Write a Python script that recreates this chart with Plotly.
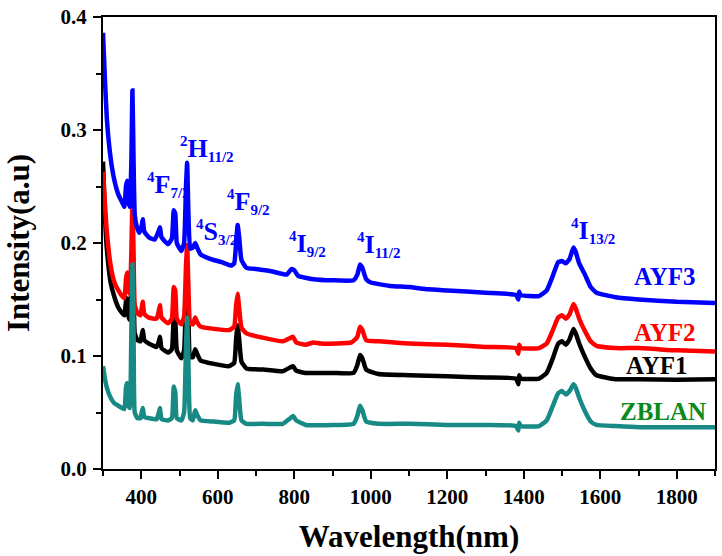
import plotly.graph_objects as go

# ---------------- data ----------------
wl_ayf3 = [300, 305, 310, 320, 330, 340, 350, 356, 360, 363, 366, 370, 374, 377, 380, 383, 388, 395, 401, 404, 408,
           420, 435, 445, 449, 453, 470, 480, 485, 489, 493, 505, 512, 517, 520, 523, 528, 535, 541, 546, 555,
           580, 610, 635, 643, 648, 652, 656, 662, 675, 700, 740, 780, 793, 800, 810, 850, 900, 955, 965, 972,
           978, 988, 1000, 1050, 1100, 1150, 1200, 1300, 1380, 1386, 1388, 1392, 1440, 1460, 1475, 1490, 1500,
           1510, 1520, 1530, 1536, 1545, 1560, 1575, 1590, 1640, 1700, 1800, 1900]
int_ayf3 = [0.386, 0.345, 0.310, 0.275, 0.255, 0.243, 0.236, 0.232, 0.250, 0.255, 0.238, 0.232, 0.270, 0.335, 0.270,
            0.225, 0.215, 0.209, 0.215, 0.221, 0.210, 0.205, 0.203, 0.210, 0.214, 0.205, 0.199, 0.204, 0.229, 0.226,
            0.200, 0.193, 0.200, 0.250, 0.271, 0.230, 0.195, 0.196, 0.200, 0.196, 0.190, 0.186, 0.183, 0.180, 0.182,
            0.200, 0.216, 0.205, 0.185, 0.178, 0.177, 0.175, 0.172, 0.177, 0.176, 0.171, 0.168, 0.167, 0.167, 0.172,
            0.181, 0.178, 0.168, 0.165, 0.162, 0.161, 0.159, 0.158, 0.156, 0.154, 0.150, 0.157, 0.154, 0.153, 0.158,
            0.170, 0.183, 0.184, 0.182, 0.186, 0.196, 0.192, 0.182, 0.172, 0.161, 0.156, 0.152, 0.150, 0.148, 0.147]

wl_ayf2 = [300, 305, 310, 320, 330, 340, 350, 356, 360, 363, 366, 370, 374, 377, 380, 383, 390, 398, 401, 404, 408,
           420, 440, 446, 449, 453, 470, 480, 485, 489, 493, 505, 512, 517, 520, 523, 528, 535, 541, 546, 555,
           590, 630, 643, 648, 652, 656, 662, 675, 720, 770, 790, 797, 805, 830, 850, 870, 950, 965, 972, 978,
           988, 1020, 1100, 1200, 1300, 1380, 1386, 1388, 1392, 1440, 1460, 1475, 1490, 1500, 1510, 1520, 1530,
           1536, 1545, 1560, 1575, 1590, 1640, 1700, 1800, 1900]
int_ayf2 = [0.263, 0.235, 0.210, 0.180, 0.165, 0.158, 0.153, 0.151, 0.168, 0.174, 0.158, 0.155, 0.190, 0.238, 0.190,
            0.145, 0.138, 0.136, 0.142, 0.148, 0.137, 0.134, 0.133, 0.140, 0.145, 0.134, 0.129, 0.133, 0.161, 0.158,
            0.133, 0.128, 0.135, 0.180, 0.198, 0.165, 0.129, 0.128, 0.134, 0.130, 0.126, 0.124, 0.123, 0.126, 0.145,
            0.155, 0.142, 0.125, 0.120, 0.116, 0.113, 0.116, 0.117, 0.112, 0.110, 0.112, 0.111, 0.112, 0.117, 0.126,
            0.123, 0.114, 0.113, 0.111, 0.110, 0.108, 0.107, 0.102, 0.110, 0.107, 0.107, 0.111, 0.122, 0.134, 0.136,
            0.133, 0.137, 0.146, 0.142, 0.133, 0.122, 0.113, 0.109, 0.107, 0.107, 0.105, 0.104]

wl_ayf1 = [300, 305, 310, 320, 330, 340, 350, 356, 360, 363, 366, 370, 374, 377, 380, 383, 390, 398, 401, 404, 408,
           420, 440, 446, 449, 453, 470, 480, 485, 489, 493, 505, 512, 517, 520, 523, 528, 535, 541, 546, 555,
           590, 630, 643, 648, 652, 656, 662, 675, 720, 770, 790, 797, 805, 830, 900, 955, 965, 972, 978, 988,
           1020, 1100, 1200, 1300, 1380, 1386, 1388, 1392, 1440, 1460, 1475, 1490, 1500, 1510, 1520, 1530, 1536,
           1545, 1560, 1575, 1590, 1640, 1700, 1800, 1900]
int_ayf1 = [0.272, 0.225, 0.195, 0.165, 0.152, 0.143, 0.138, 0.136, 0.148, 0.151, 0.136, 0.132, 0.160, 0.200, 0.160,
            0.120, 0.114, 0.113, 0.118, 0.123, 0.114, 0.111, 0.108, 0.113, 0.117, 0.107, 0.103, 0.106, 0.133, 0.130,
            0.105, 0.098, 0.105, 0.150, 0.170, 0.140, 0.099, 0.099, 0.106, 0.102, 0.096, 0.093, 0.091, 0.094, 0.115,
            0.127, 0.115, 0.095, 0.089, 0.088, 0.0865, 0.090, 0.091, 0.087, 0.085, 0.085, 0.085, 0.092, 0.101, 0.098,
            0.088, 0.084, 0.083, 0.082, 0.081, 0.080, 0.075, 0.083, 0.080, 0.080, 0.085, 0.097, 0.111, 0.113, 0.110,
            0.115, 0.124, 0.120, 0.111, 0.099, 0.089, 0.083, 0.0795, 0.0795, 0.079, 0.0795]

wl_zblan = [300, 305, 310, 320, 330, 340, 350, 356, 360, 363, 366, 370, 374, 377, 380, 383, 390, 398, 401, 404, 408,
            420, 440, 446, 449, 453, 470, 480, 485, 489, 493, 505, 512, 517, 520, 523, 528, 535, 541, 546, 555,
            590, 630, 643, 648, 652, 656, 662, 675, 720, 770, 790, 797, 805, 830, 900, 955, 965, 972, 978, 988,
            1020, 1100, 1200, 1300, 1380, 1386, 1388, 1392, 1440, 1460, 1475, 1490, 1500, 1510, 1520, 1530, 1536,
            1545, 1560, 1575, 1590, 1640, 1700, 1800, 1900]
int_zblan = [0.091, 0.080, 0.072, 0.063, 0.058, 0.056, 0.054, 0.053, 0.072, 0.076, 0.056, 0.054, 0.120, 0.181, 0.120,
             0.050, 0.045, 0.045, 0.050, 0.054, 0.046, 0.045, 0.044, 0.050, 0.054, 0.044, 0.043, 0.045, 0.073, 0.068,
             0.045, 0.043, 0.050, 0.110, 0.134, 0.100, 0.045, 0.043, 0.052, 0.048, 0.043, 0.042, 0.041, 0.043, 0.065,
             0.075, 0.062, 0.043, 0.040, 0.040, 0.040, 0.045, 0.047, 0.043, 0.039, 0.039, 0.040, 0.047, 0.056, 0.052,
             0.042, 0.040, 0.040, 0.039, 0.039, 0.038, 0.034, 0.041, 0.038, 0.038, 0.043, 0.055, 0.067, 0.069, 0.066,
             0.069, 0.075, 0.072, 0.063, 0.051, 0.042, 0.039, 0.038, 0.037, 0.037, 0.037]

sample_names = ["AYF1", "AYF2", "AYF3", "ZBLAN"]

x_ticks = [400, 600, 800, 1000, 1200, 1400, 1600, 1800]
y_ticks = [0.0, 0.1, 0.2, 0.3, 0.4]

level_labels = ["<sup>4</sup>F<sub>7/2</sub>", "<sup>2</sup>H<sub>11/2</sub>", "<sup>4</sup>S<sub>3/2</sub>",
                "<sup>4</sup>F<sub>9/2</sub>", "<sup>4</sup>I<sub>9/2</sub>", "<sup>4</sup>I<sub>11/2</sub>",
                "<sup>4</sup>I<sub>13/2</sub>"]
level_x = [409, 497, 539, 620, 781, 959, 1519]
level_y = [0.251, 0.283, 0.210, 0.236, 0.199, 0.198, 0.211]

# ---------------- figure ----------------
FONT = "Liberation Serif, Times New Roman, serif"
fig = go.Figure()

series = [
    ("AYF1", wl_ayf1, int_ayf1, "#000000"),
    ("AYF2", wl_ayf2, int_ayf2, "#ff0000"),
    ("AYF3", wl_ayf3, int_ayf3, "#0000ff"),
    ("ZBLAN", wl_zblan, int_zblan, "#178a86"),
]
for name, xs, ys, col in series:
    fig.add_trace(go.Scatter(x=xs, y=ys, mode="lines", name=name, hoverinfo="skip",
                             line=dict(color=col, width=4.5, shape="spline", smoothing=0.4)))

# sample name labels
sample_pos = {"AYF3": (1769, 0.1704, "#0000ff"), "AYF2": (1769, 0.1207, "#ff0000"),
              "AYF1": (1749, 0.0918, "#000000"), "ZBLAN": (1764, 0.0508, "#0a8a1a")}
for nm in sample_names:
    x, y, c = sample_pos[nm]
    fig.add_annotation(x=x, y=y, text=nm, showarrow=False, xanchor="center", yanchor="middle",
                       font=dict(family=FONT, size=25, color=c, weight="bold"))

for t, x, y in zip(level_labels, level_x, level_y):
    t = t.replace("<sub>", "<sub><span style='font-size:15px'>").replace("</sub>", "</span></sub>")
    t = t.replace("<sup>", "<sup><span style='font-size:15px'>").replace("</sup>", "</span></sup>")
    fig.add_annotation(x=x, y=y, text=t, showarrow=False, xanchor="left", yanchor="middle",
                       font=dict(family=FONT, size=26, color="#0000ff", weight="bold"))

axis_common = dict(showline=True, linecolor="black", linewidth=2, mirror=True, ticks="outside",
                   ticklen=8, tickwidth=2, tickcolor="black", showgrid=False, zeroline=False,
                   ticklabeloverflow="allow",
                   tickfont=dict(family=FONT, size=21, color="black", weight="bold"))

fig.update_xaxes(range=[300, 1900], tickvals=x_ticks, ticktext=[str(v) for v in x_ticks],
                 minor=dict(dtick=100, tick0=0, ticks="outside", ticklen=5, tickwidth=2, tickcolor="black"),
                 title=dict(text="Wavelength(nm)", standoff=17,
                            font=dict(family=FONT, size=31, color="black", weight="bold")),
                 **axis_common)
fig.update_yaxes(range=[0, 0.4], tickvals=y_ticks, ticktext=["0.0", "0.1", "0.2", "0.3", "0.4"],
                 ticklabelstandoff=2,
                 minor=dict(dtick=0.05, tick0=0, ticks="outside", ticklen=5, tickwidth=2, tickcolor="black"),
                 title=dict(text="Intensity(a.u)", standoff=22,
                            font=dict(family=FONT, size=31, color="black", weight="bold")),
                 **axis_common)

fig.update_layout(width=722, height=556, margin=dict(l=103, r=5, t=11, b=87),
                  plot_bgcolor="white", paper_bgcolor="white", showlegend=False)

fig.write_html("out.html", config={"displayModeBar": False},
               post_script="document.body.style.margin='0';document.body.style.overflow='hidden';")
